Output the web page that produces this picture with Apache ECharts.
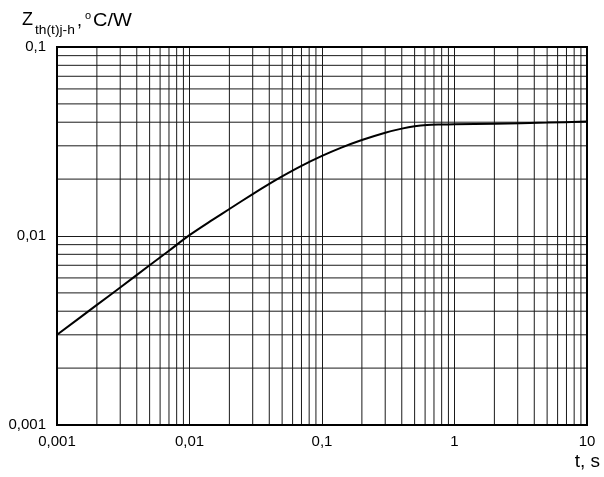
<!DOCTYPE html>
<html>
<head>
<meta charset="utf-8">
<script src="https://cdn.jsdelivr.net/npm/echarts@6/dist/echarts.min.js"></script>
<style>html,body{margin:0;padding:0;background:#fff}#c{width:604px;height:477px}</style>
</head>
<body>
<div id="c"></div>
<script>
const timeSec = [0.001, 0.002, 0.003, 0.005, 0.007, 0.01, 0.015, 0.02, 0.03, 0.04, 0.05, 0.07, 0.1, 0.14, 0.2, 0.3, 0.4, 0.5, 0.62, 0.8, 1, 2, 5, 10];
const zth = [0.0030, 0.00432, 0.00534, 0.0070, 0.00836, 0.0101, 0.0122, 0.01389, 0.01667, 0.01887, 0.02068, 0.0235, 0.02653, 0.02935, 0.0322, 0.0352, 0.0370, 0.0381, 0.0387, 0.0389, 0.0390, 0.0393, 0.0398, 0.0403];
const xRange = [0.001, 10];
const yRange = [0.001, 0.1];
const xDecades = [0.001, 0.01, 0.1, 1];
const yDecades = [0.001, 0.01];
const minorMult = [2, 3, 4, 5, 6, 7, 8, 9];

const FONT = 'Liberation Sans, Arial, sans-serif';
const gridColor = '#1a1a1a';

const gridSeries = [];
const gridLine = data => ({
  type: 'line', data: data, silent: true, showSymbol: false, symbol: 'none',
  lineStyle: {color: gridColor, width: 1}, z: 1, animation: false
});
xDecades.forEach(d => minorMult.forEach(m => {
  const v = +(d * m).toPrecision(6);
  gridSeries.push(gridLine([[v, yRange[0]], [v, yRange[1]]]));
}));
yDecades.forEach(d => minorMult.forEach(m => {
  const v = +(d * m).toPrecision(6);
  gridSeries.push(gridLine([[xRange[0], v], [xRange[1], v]]));
}));

const fmt = v => String(+(+v).toPrecision(6)).replace('.', ',');

const chart = echarts.init(document.getElementById('c'), null, {renderer: 'canvas'});
chart.setOption({
  animation: false,
  backgroundColor: '#fff',
  grid: {left: 57, right: 17, top: 47, bottom: 52, show: true, borderColor: '#000', borderWidth: 2, backgroundColor: 'transparent', z: 20},
  xAxis: {
    type: 'log', logBase: 10, min: xRange[0], max: xRange[1],
    axisLine: {show: true, lineStyle: {color: '#000', width: 2}},
    axisTick: {show: false},
    splitLine: {show: true, lineStyle: {color: gridColor, width: 1}},
    axisLabel: {formatter: fmt, color: '#000', fontFamily: FONT, fontSize: 15, margin: 9}
  },
  yAxis: {
    type: 'log', logBase: 10, min: yRange[0], max: yRange[1],
    axisLine: {show: true, lineStyle: {color: '#000', width: 2}},
    axisTick: {show: false},
    splitLine: {show: true, lineStyle: {color: gridColor, width: 1}},
    axisLabel: {formatter: fmt, color: '#000', fontFamily: FONT, fontSize: 15, margin: 11}
  },
  graphic: [
    {type: 'text', left: 22, top: 11, style: {text: 'Z', font: '18px ' + FONT, fill: '#000'}},
    {type: 'text', left: 35, top: 25, style: {text: 'th(t)j-h', font: '12px ' + FONT, fill: '#000'}, scaleX: 1.15},
    {type: 'text', left: 77, top: 12, style: {text: ',', font: '18px ' + FONT, fill: '#000'}},
    {type: 'text', left: 85, top: 10, style: {text: 'o', font: '11px ' + FONT, fill: '#000'}},
    {type: 'text', left: 93, top: 11, style: {text: 'C/W', font: '19px ' + FONT, fill: '#000'}, scaleX: 1.05},
    {type: 'text', right: 4, top: 452, style: {text: 't, s', font: '19px ' + FONT, fill: '#000'}}
  ],
  series: gridSeries.concat([{
    type: 'line',
    data: timeSec.map((t, i) => [t, zth[i]]),
    smooth: 0.3,
    showSymbol: false,
    lineStyle: {color: '#000', width: 2},
    z: 10
  }])
});
</script>
</body>
</html>
